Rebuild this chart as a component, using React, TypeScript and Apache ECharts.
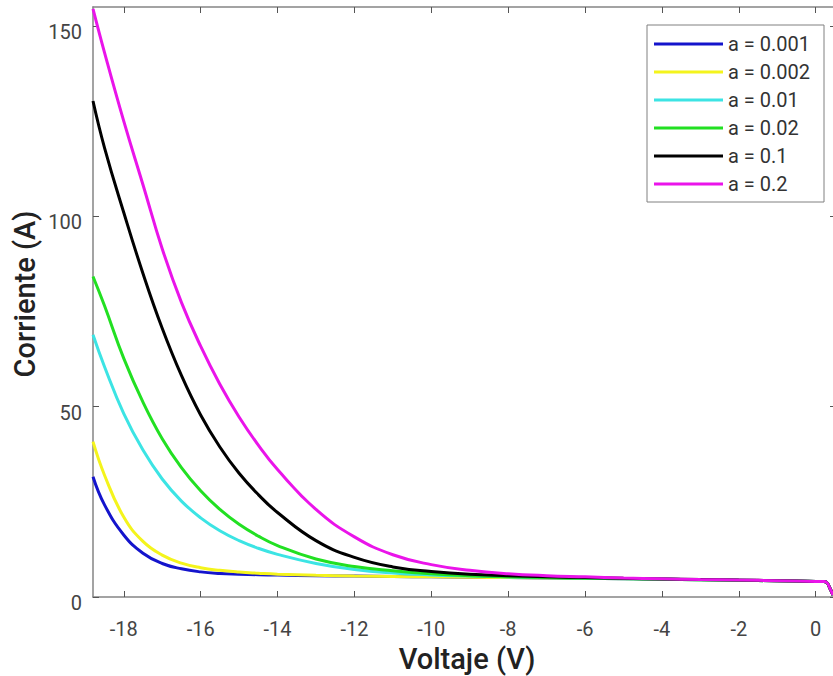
import React, { useEffect, useRef } from "react";
import * as echarts from "echarts";

const seriesNames = ["a = 0.001", "a = 0.002", "a = 0.01", "a = 0.02", "a = 0.1", "a = 0.2"];
const seriesColors = ["#1414cc", "#f4f41c", "#3ce4e4", "#22e022", "#000000", "#ea14ea"];

const voltage = [-18.8, -18.5, -18, -17.5, -17, -16.5, -16, -15.5, -15, -14.5, -14, -13, -12, -11, -10, -9, -8, -7, -6, -5, -4, -3, -2, -1, 0, 0.2, 0.28, 0.36, 0.45];

const currentA0001 = [31.6, 24.2, 16.3, 11.5, 8.8, 7.4, 6.6, 6.2, 6.0, 5.85, 5.75, 5.6, 5.5, 5.4, 5.3, 5.2, 5.1, 5.0, 4.9, 4.8, 4.7, 4.55, 4.4, 4.25, 4.1, 4.05, 3.9, 2.5, 0.5];
const currentA0002 = [40.8, 32.0, 21.0, 14.6, 11.0, 8.9, 7.7, 7.0, 6.55, 6.25, 6.0, 5.7, 5.5, 5.4, 5.3, 5.2, 5.1, 5.0, 4.9, 4.8, 4.7, 4.55, 4.4, 4.25, 4.1, 4.05, 3.9, 2.5, 0.5];
const currentA001 = [68.9, 60.5, 48.2, 38.6, 31.0, 25.2, 20.8, 17.4, 14.8, 12.8, 11.2, 8.8, 7.2, 6.3, 5.8, 5.5, 5.25, 5.05, 4.9, 4.8, 4.7, 4.55, 4.4, 4.25, 4.1, 4.05, 3.9, 2.5, 0.5];
const currentA002 = [84.2, 76.5, 62.7, 51.2, 41.6, 34.0, 27.9, 23.0, 19.1, 16.0, 13.5, 10.0, 8.0, 6.9, 6.1, 5.6, 5.3, 5.1, 4.95, 4.85, 4.7, 4.55, 4.4, 4.25, 4.1, 4.05, 3.9, 2.5, 0.5];
const currentA01 = [130.3, 118, 101, 85.0, 70.6, 58.2, 47.8, 39.4, 32.5, 26.9, 22.2, 14.8, 10.4, 7.9, 6.7, 5.95, 5.6, 5.3, 5.1, 4.9, 4.75, 4.6, 4.45, 4.3, 4.1, 4.05, 3.9, 2.5, 0.5];
const currentA02 = [154.5, 143, 125, 108.3, 91.5, 77.4, 65.9, 55.9, 47.3, 39.9, 33.5, 23.0, 15.8, 11.1, 8.5, 7.0, 6.1, 5.6, 5.3, 5.0, 4.8, 4.6, 4.45, 4.3, 4.1, 4.05, 3.9, 2.5, 0.5];

const allCurrents = [currentA0001, currentA0002, currentA001, currentA002, currentA01, currentA02];

const xTicks = [-18, -16, -14, -12, -10, -8, -6, -4, -2, 0];
const yTicks = [0, 50, 100, 150];
const xTitle = "Voltaje (V)";
const yTitle = "Corriente (A)";

export default function App() {
  const ref = useRef<HTMLDivElement>(null);
  useEffect(() => {
    if (!ref.current) return;
    const chart = echarts.init(ref.current, null, { renderer: "svg" });
    const font = "Roboto, 'Noto Sans', sans-serif";
    const axisColor = "#858585";
    const tickColor = "#555555";
    const series = seriesNames.map((name, i) => ({
      name,
      type: "line",
      data: voltage.map((v, k) => [v, allCurrents[i][k]]),
      smooth: 0.45,
      showSymbol: false,
      symbol: "none",
      clip: true,
      lineStyle: { color: seriesColors[i], width: 3 },
      itemStyle: { color: seriesColors[i] },
      z: 2 + i,
    }));
    const titleStyle = { fontFamily: font, fontSize: 29, fontWeight: 500, fill: "#222222" };
    chart.setOption({
      animation: false,
      backgroundColor: "#ffffff",
      grid: { left: 93, top: 7, right: 0, bottom: 79, show: false },
      legend: {
        orient: "vertical",
        left: 647,
        top: 25,
        padding: [5, 14, 4, 7],
        itemGap: 0,
        itemWidth: 69,
        itemHeight: 3,
        icon: "rect",
        borderColor: "#808080",
        borderWidth: 1,
        backgroundColor: "#ffffff",
        textStyle: { fontFamily: font, fontSize: 20, color: "#333333", lineHeight: 28 },
        data: seriesNames,
      },
      graphic: [
        {
          type: "text",
          x: 467,
          y: 659,
          style: { ...titleStyle, text: xTitle, textAlign: "center", textVerticalAlign: "middle" },
        },
        {
          type: "text",
          x: 25,
          y: 294,
          rotation: Math.PI / 2,
          style: { ...titleStyle, text: yTitle, textAlign: "center", textVerticalAlign: "middle" },
        },
      ],
      xAxis: [
        {
          type: "value",
          min: -18.8,
          max: 0.45,
          position: "bottom",
          axisLine: { show: true, onZero: false, lineStyle: { color: axisColor, width: 1.5 } },
          axisTick: { show: true, inside: true, length: 6, customValues: xTicks, lineStyle: { color: tickColor } },
          axisLabel: { customValues: xTicks, margin: 22, fontFamily: font, fontSize: 20, color: "#444444" },
          splitLine: { show: false },
        },
        {
          type: "value",
          min: -18.8,
          max: 0.45,
          position: "top",
          axisLine: { show: true, onZero: false, lineStyle: { color: axisColor, width: 1.5 } },
          axisTick: { show: true, inside: true, length: 6, customValues: xTicks, lineStyle: { color: tickColor } },
          axisLabel: { show: false },
          splitLine: { show: false },
        },
      ],
      yAxis: [
        {
          type: "value",
          min: 0,
          max: 155,
          position: "left",
          axisLine: { show: true, onZero: false, lineStyle: { color: axisColor, width: 1.5 } },
          axisTick: { show: true, inside: true, length: 6, customValues: yTicks, lineStyle: { color: tickColor } },
          axisLabel: { customValues: yTicks, margin: 11, fontFamily: font, fontSize: 20, color: "#444444", verticalAlign: "top", lineHeight: 12 },
          splitLine: { show: false },
        },
        {
          type: "value",
          min: 0,
          max: 155,
          position: "right",
          offset: 3,
          axisLine: { show: true, onZero: false, lineStyle: { color: axisColor, width: 1.5 } },
          axisTick: { show: true, inside: true, length: 6, customValues: yTicks, lineStyle: { color: tickColor } },
          axisLabel: { show: false },
          splitLine: { show: false },
        },
      ],
      series,
    });
    return () => chart.dispose();
  }, []);
  return <div ref={ref} style={{ position: "absolute", left: 0, top: 0, width: 833, height: 676, overflow: "hidden" }} />;
}
